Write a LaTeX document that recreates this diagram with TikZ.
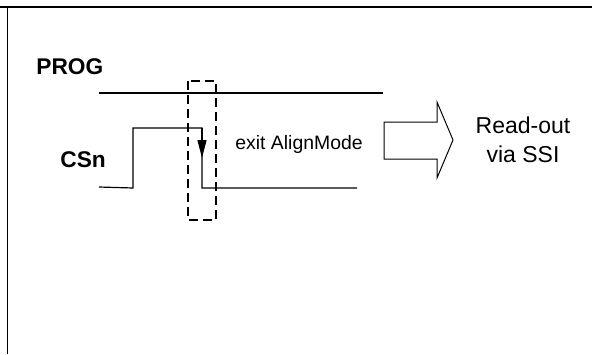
\documentclass[tikz,border=0pt]{standalone}
\usepackage{fontspec}
\setmainfont{Liberation Sans}
\usetikzlibrary{arrows.meta}

\begin{document}
\begin{tikzpicture}[x=0.5pt,y=-0.5pt,
  frame/.style={line width=0.75pt},
  sig/.style={line width=0.6pt},
  lbl/.style={font=\bfseries\fontsize{11.35}{13}\selectfont,inner sep=0pt,anchor=base west},
  note/.style={font=\fontsize{9.7}{11.6}\selectfont,inner sep=0pt,anchor=base west},
  dashbox/.style={line width=1.2pt,dash pattern=on 4.5pt off 2.5pt},
  edgearr/.style={-{Triangle[length=9pt,width=4.5pt]},line width=0.6pt}]
\useasboundingbox (0,0) rectangle (592,354);
% frame
\draw[frame] (0,7) -- (592,7);
\draw[frame] (7.5,7) -- (7.5,354);
% signal names
\node[lbl] (prog) at (36,74) {PROG};
\node[lbl] (csn) at (60,167) {CSn};
% waveforms
\draw[sig] (99,93) -- (383,93);
\draw[sig] (99,187) -- (133,188) -- (133,128) -- (202,128) -- (202,188) -- (357,188);
\coordinate (fall) at (202,128);
\coordinate (fallmid) at (202,158);
\draw[edgearr] (fall) -- (fallmid);
\draw[dashbox] (188,81) rectangle (216,220);
\node[note] (exit) at (235,149) {exit AlignMode};
% block arrow
\draw[line width=0.5pt] (384,122) -- (437,122) -- (437,102) -- (453,140)
  -- (437,178) -- (437,159) -- (384,159) -- cycle;
\node[font=\fontsize{11.5}{14.5}\selectfont,align=center,inner sep=0pt] (ssi)
  at (523,140) {Read-out\\via SSI};
\end{tikzpicture}
\end{document}
